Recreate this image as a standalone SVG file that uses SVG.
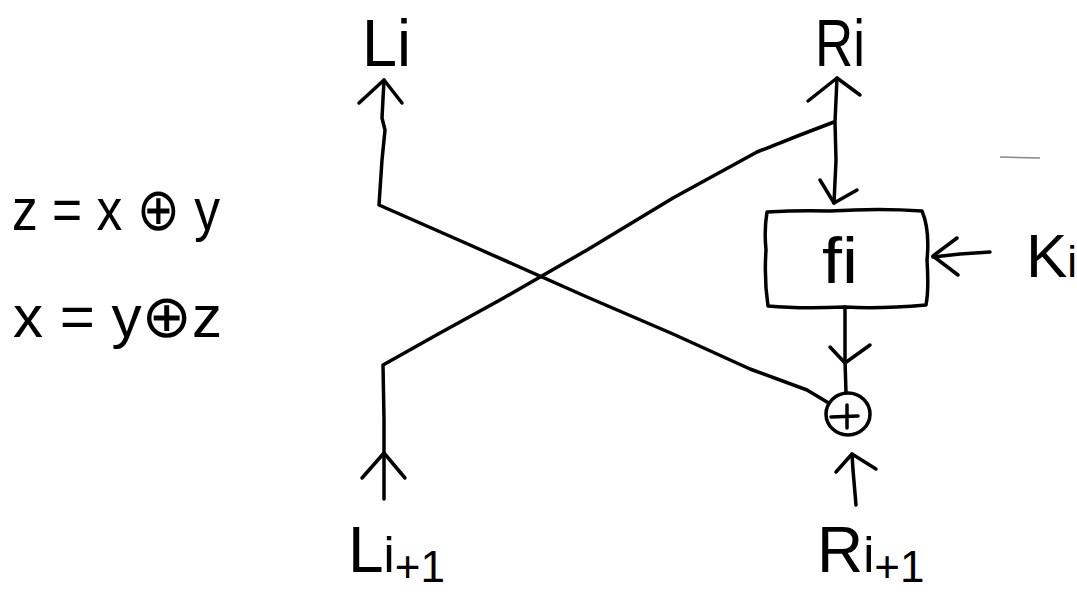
<svg xmlns="http://www.w3.org/2000/svg" width="1077" height="596" viewBox="0 0 1077 596">
<style>
.ln{fill:none;stroke:#000;stroke-width:3.5;stroke-linecap:round;stroke-linejoin:round}
.tx{font-family:"Liberation Sans","DejaVu Sans",sans-serif;fill:#000}
</style>
<rect width="1077" height="596" fill="#fff"/>
<g id="connectors" class="ln">
  <!-- Li output arrow and crossing line from Li to XOR -->
  <path d="M384 80 L382 118 L385 130 L382 160 L379 205 L470 245 L587 297 L673 334 L750 369 L807 390 L827 402"/>
  <path d="M359 103 L384 80 L402 103"/>
  <!-- Ri output arrow, junction and crossing line to L(i+1) -->
  <path d="M837 78 L835 122 L836 160 L834 203"/>
  <path d="M808 101 L837 78 L860 95"/>
  <path d="M834 122 L800 135 L757 152 L673 198 L587 250 L500 300 L440 333 L383 365 L384 420 L384 499"/>
  <path d="M362 478 L384 453 L405 478"/>
  <!-- arrow into f -->
  <path d="M820 180 L834 203 L857 190"/>
  <!-- f to XOR -->
  <path d="M845 307 L845 360 L846 393"/>
  <path d="M830 347 L845 363 L870 345"/>
  <!-- Ri+1 into XOR -->
  <path d="M856 505 L853 470 L852 454"/>
  <path d="M836 472 L852 454 L876 469"/>
  <!-- Ki into f -->
  <path d="M990 252 L960 254 L933 257"/>
  <path d="M957 238 L933 256 L958 275"/>
</g>
<g id="node-f">
  <path class="ln" d="M767 212 Q800 210 830 211 Q880 208 922 211 Q930 230 927 260 Q929 290 926 305 Q880 309 845 307 Q800 309 768 306 Q764 280 766 250 Q764 230 767 212 Z"/>
  <text class="tx" x="822" y="283" font-size="64" textLength="36" lengthAdjust="spacingAndGlyphs">fi</text>
</g>
<g id="node-xor">
  <ellipse class="ln" cx="848" cy="414" rx="22" ry="21"/>
  <path class="ln" d="M831 417 L858 416 M847 405 L847 428"/>
</g>
<g id="label-Li">
  <text class="tx" x="362" y="66" font-size="66" textLength="49" lengthAdjust="spacingAndGlyphs">Li</text>
</g>
<g id="label-Ri">
  <text class="tx" x="815" y="66" font-size="66" textLength="50" lengthAdjust="spacingAndGlyphs">Ri</text>
</g>
<g id="label-Li1">
  <text class="tx" x="348" y="572" font-size="64">L<tspan font-size="50">i</tspan><tspan font-size="44" dy="10">+1</tspan></text>
</g>
<g id="label-Ri1">
  <text class="tx" x="817" y="572" font-size="64">R<tspan font-size="50">i</tspan><tspan font-size="44" dy="10">+1</tspan></text>
</g>
<g id="label-Ki">
  <text class="tx" x="1026" y="277" font-size="62">K<tspan font-size="44">i</tspan></text>
</g>
<g id="equations">
  <text class="tx" x="12" y="230" font-size="60" textLength="208" lengthAdjust="spacingAndGlyphs">z = x ⊕ y</text>
  <text class="tx" x="13" y="337" font-size="60" textLength="209" lengthAdjust="spacingAndGlyphs">x = y⊕z</text>
</g>
<path d="M1000 157 L1040 158" fill="none" stroke="#888" stroke-width="1.5"/>
</svg>
